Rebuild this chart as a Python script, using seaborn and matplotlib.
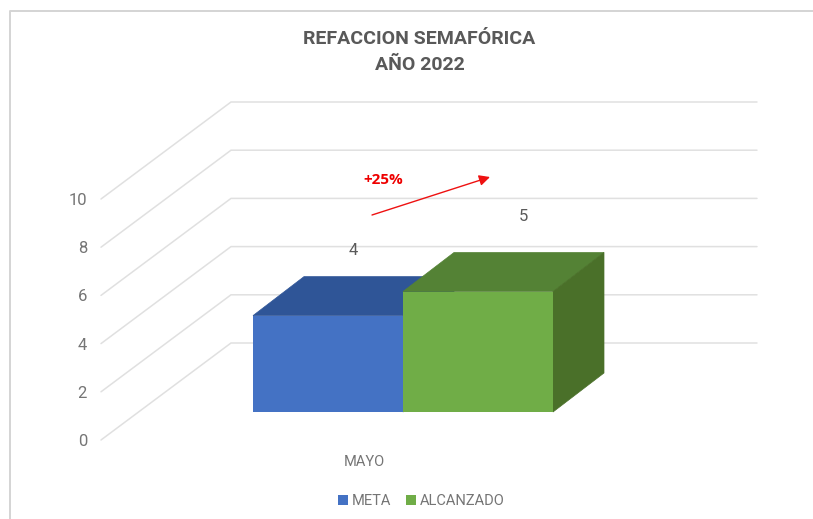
import matplotlib
matplotlib.use("Agg")
import matplotlib.pyplot as plt
import pandas as pd
import seaborn as sns
from matplotlib.lines import Line2D
from matplotlib.patches import Polygon
from matplotlib.transforms import ScaledTranslation

# --- data ---
title_lines = ["REFACCION SEMAFÓRICA", "AÑO 2022"]
month = ["MAYO", "MAYO"]
series = ["META", "ALCANZADO"]
values = [4, 5]
y_ticks = [0, 2, 4, 6, 8, 10]
annotation = "+25%"

# --- styles ---
W, H = 813, 519
BODY = ["Roboto", "Liberation Sans"]
front = ["#4472C4", "#70AD47"]
top = ["#2F5597", "#548235"]
side = ["#2F5597", "#4A7029"]
grid_c = "#E0E0E0"
label_c = "#757575"

sns.set_theme(style="white")
plt.rcParams["font.family"] = BODY

fig = plt.figure(figsize=(W / 100, H / 100), dpi=100, facecolor="white")
PX_L, PX_R, PX_B, PX_T = 101, 757, 440, 199
ax = fig.add_axes([PX_L / W, 1 - PX_B / H, (PX_R - PX_L) / W, (PX_B - PX_T) / H])

ux = 300.0                     # pixels per category unit
uy = (PX_B - PX_T) / 10.0      # pixels per value unit
base = (PX_B - 412) / uy       # bars stand forward of the wall's zero line

df = pd.DataFrame({"mes": month, "serie": series, "valor": values})
sns.barplot(data=df, x="mes", y="valor", hue="serie", hue_order=series,
            palette=front, saturation=1, width=1, gap=0,
            linewidth=0, ax=ax, legend=True, zorder=3)

cx = 403
ax.set_xlim((PX_L - cx) / ux, (PX_R - cx) / ux)
ax.set_ylim(0, 10)
ax.set_xlabel("")
ax.set_ylabel("")
sns.despine(ax=ax, left=True, bottom=True, top=True, right=True)
ax.patch.set_alpha(0)

# walls: diagonal from the front edge to the back wall, then horizontal
wall_dx = 130 / ux
wall_dy = 97 / uy
x0 = ax.get_xlim()[0]
x1 = ax.get_xlim()[1]
for v in y_ticks:
    ax.plot([x0, x0 + wall_dx, x1], [v, v + wall_dy, v + wall_dy],
            color=grid_c, lw=1.1, clip_on=False, zorder=1, solid_joinstyle="miter")

# depth faces derived from the drawn bars
ddx = 51 / ux
ddy = 39 / uy
bars = [p for p in ax.patches if p.get_height() > 0][:2]
for i, p in enumerate(bars):
    p.set_y(base)
    xa, xb = p.get_x(), p.get_x() + p.get_width()
    yb, yt = p.get_y(), p.get_y() + p.get_height()
    z = 3 + 2 * i
    ax.add_patch(Polygon([(xa, yt), (xb, yt), (xb + ddx, yt + ddy), (xa + ddx, yt + ddy)],
                         closed=True, fc=top[i], ec=top[i], lw=0.5, zorder=z, clip_on=False))
    ax.add_patch(Polygon([(xb, yb), (xb + ddx, yb + ddy), (xb + ddx, yt + ddy), (xb, yt)],
                         closed=True, fc=side[i], ec=side[i], lw=0.5, zorder=z, clip_on=False))
    p.set_zorder(z + 0.5)

# data labels
label_off = [(25, 65), (45, 75)]
for p, v, (ox, oy) in zip(bars, values, label_off):
    ax.annotate(str(v), xy=(p.get_x() + p.get_width() / 2, p.get_y() + p.get_height()),
                xytext=(ox * 0.72, oy * 0.72), textcoords="offset points",
                ha="center", va="center", fontsize=12, color="#5A5A5A", zorder=8)

# ticks
ax.set_yticks(y_ticks)
ax.tick_params(axis="y", length=0, pad=10, labelsize=12, labelcolor=label_c)
ax.tick_params(axis="x", length=0, pad=10.5, labelsize=10.5, labelcolor=label_c)
shift = ScaledTranslation(-39 / 100, 0, fig.dpi_scale_trans)
for lab in ax.get_xticklabels():
    lab.set_transform(lab.get_transform() + shift)

# legend
handles, labels = ax.get_legend_handles_labels()
ax.legend(handles, labels, loc="center", bbox_to_anchor=(421.5 / W, 1 - 501 / H),
          bbox_transform=fig.transFigure, ncol=2, frameon=False, fontsize=10.5,
          handlelength=0.65, handleheight=0.65, handletextpad=0.3,
          columnspacing=1.0, labelcolor=label_c, borderpad=0)

# title
fig.text(419.5 / W, 1 - 52 / H, "\n".join(title_lines), ha="center", va="center",
         fontsize=14, fontweight="bold", color="#595959", linespacing=1.55,
         family="Roboto")

# annotation
fig.text(383 / W, 1 - 180 / H, annotation, ha="center", va="center", fontsize=11,
         fontweight="bold", color="#EE0000", family="Open Sans")
ax.annotate("", xy=(490, H - 177), xytext=(372, H - 215),
            xycoords="figure pixels", textcoords="figure pixels",
            arrowprops=dict(arrowstyle="-|>", color="#EE1111", lw=1.0,
                            mutation_scale=16, shrinkA=0, shrinkB=0), zorder=9)

# outer frame
fig.add_artist(Line2D([9.5 / W, 9.5 / W, W / W], [0, 1 - 10.5 / H, 1 - 10.5 / H],
                      color="#D4D4D4", lw=1.4, solid_joinstyle="round"))

fig.savefig("out.png", dpi=100)
